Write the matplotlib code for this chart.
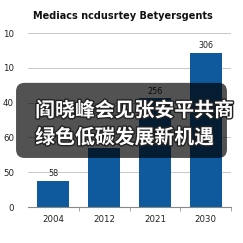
import matplotlib
matplotlib.use("Agg")
import matplotlib.pyplot as plt
import matplotlib.patheffects as pe
from matplotlib.patches import FancyBboxPatch

# data
years = ["2004", "2012", "2021", "2030"]
heights = [38, 85, 156, 222]
bar_labels = ["58", "", "256", "306"]
ytick_vals = [0, 50, 100, 150, 200, 250]
ytick_labels = ["0", "50", "60", "40", "10", "10"]
title = "Mediacs ncdusrtey Betyersgents"
overlay_lines = ["阎晓峰会见张安平共商", "绿色低碳发展新机遇"]

fig = plt.figure(figsize=(2.43, 2.43), dpi=100)
ax = fig.add_axes([0.115, 0.148, 0.836, 0.716])

x = range(len(years))
bars = ax.bar(x, heights, width=0.63, color="#0f5a9c", zorder=2)
for b, lab in zip(bars, bar_labels):
    if lab:
        ax.text(b.get_x() + b.get_width() / 2, b.get_height() + 4, lab,
                ha="center", va="bottom", fontsize=5.8, color="#222222")

ax.set_xlim(-0.5, 3.5)
ax.set_ylim(0, 250)
ax.set_yticks(ytick_vals)
ax.set_yticklabels(ytick_labels, fontsize=6.2, color="#222222")
ax.set_xticks(list(x))
ax.set_xticklabels(years, fontsize=6.2, color="#222222")
ax.set_xticks([0.5, 1.5, 2.5, 3.5], minor=True)
ax.tick_params(axis="x", which="major", length=0, pad=6)
ax.tick_params(axis="x", which="minor", length=3, color="#999999")
ax.tick_params(axis="y", length=0, pad=10)
ax.yaxis.grid(True, color="#c8c8c8", linewidth=0.7, zorder=0)
for s in ["top", "right", "left"]:
    ax.spines[s].set_visible(False)
ax.spines["bottom"].set_color("#888888")
ax.spines["bottom"].set_linewidth(0.8)

fig.text(0.505, 0.935, title, ha="center", va="center", fontsize=7,
         fontweight="bold", color="#111111")

# dark translucent overlay with the headline
box = FancyBboxPatch((0.066, 0.350), 0.868, 0.309,
                     boxstyle="round,pad=0,rounding_size=0.035",
                     transform=fig.transFigure, facecolor="black",
                     edgecolor="none", alpha=0.68, zorder=5)
fig.patches.append(box)
for txt, yy in zip(overlay_lines, [0.547, 0.436]):
    fig.text(0.145, yy, txt, ha="left", va="center", fontsize=14.3,
             fontweight="bold", color="white", family=["Noto Sans CJK SC", "DejaVu Sans"],
             zorder=6, path_effects=[pe.withStroke(linewidth=2, foreground="#222222")])

fig.savefig("out.png", dpi=100)
